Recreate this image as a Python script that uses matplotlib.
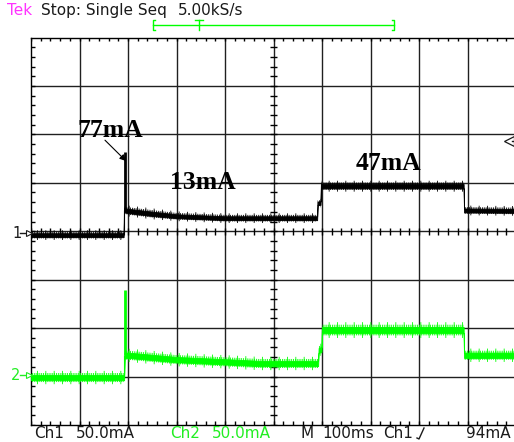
import numpy as np
import matplotlib
matplotlib.use("Agg")
import matplotlib.pyplot as plt
from matplotlib.lines import Line2D

# scope settings (50 mA/div both channels, 10 x 8 divisions)
ma_per_div = 50.0
ch1_offset = -0.04   # divisions
ch2_offset = -2.96

# channel 1 (black) - time in divisions, level and half-band in mA
ch1_t = [0.00, 1.91, 1.92, 1.99, 2.50, 3.00, 4.00, 5.90, 5.91, 5.97, 5.98, 8.92, 8.93, 10.0]
ch1_mid = [-2.0, -2.0, 24.0, 23.0, 20.0, 17.5, 15.5, 15.5, 31.0, 31.0, 48.5, 48.5, 23.5, 23.0]
ch1_half = [4.0, 4.0, 4.5, 4.5, 4.5, 4.0, 4.0, 4.0, 3.5, 3.5, 4.5, 4.5, 4.0, 4.0]
ch1_spike_t = 1.94
ch1_spike = [24.0, 84.0]

# channel 2 (green)
ch2_t = [0.00, 1.92, 1.93, 2.00, 3.00, 4.10, 4.70, 5.92, 5.93, 5.99, 6.00, 8.92, 8.93, 10.0]
ch2_mid = [-3.0, -3.0, 20.0, 20.0, 15.5, 13.0, 11.5, 11.5, 25.0, 26.0, 46.0, 46.0, 20.0, 20.0]
ch2_half = [5.5, 5.5, 5.5, 5.5, 5.5, 5.5, 5.5, 5.5, 5.0, 5.0, 6.5, 6.5, 5.5, 5.5]
ch2_spike_t = 1.93
ch2_spike = [20.0, 87.0]

labels = ["77mA", "13mA", "47mA"]
label_pos = [(0.95, 2.08), (2.87, 1.00), (6.70, 1.39)]

W, H = 514, 442
GREEN = "#00ff00"
TXT_GREEN = "#22ee22"
INK = "#1a1a1a"

fig = plt.figure(figsize=(W / 100, H / 100), dpi=100)
fig.patch.set_facecolor("white")
ax = fig.add_axes([31 / W, 17 / H, 485 / W, 387.5 / H])
ax.set_xlim(0, 10)
ax.set_ylim(-4, 4)
ax.set_xticks([])
ax.set_yticks([])
for s in ax.spines.values():
    s.set_color("black")
    s.set_linewidth(1.0)

# graticule
for gx in range(1, 10):
    ax.axvline(gx, color="#202020", lw=1.0, zorder=1)
for gy in range(-3, 4):
    ax.axhline(gy, color="#202020", lw=1.0, zorder=1)

tk = 3.5 / 48.5
minor_x = np.arange(0, 10.01, 0.2)
minor_y = np.arange(-4, 4.01, 0.2)
ax.vlines(minor_x, -tk, tk, color="black", lw=1.0, zorder=1)
ax.hlines(minor_y, 5 - tk, 5 + tk, color="black", lw=1.0, zorder=1)
ax.vlines(minor_x, 4 - 4 / 48.5, 4, color="black", lw=1.0, zorder=1)
ax.vlines(minor_x, -4, -4 + 4 / 48.5, color="black", lw=1.0, zorder=1)
ax.hlines(minor_y, 0, 4 / 48.5, color="black", lw=1.0, zorder=1)

plt.rcParams["hatch.linewidth"] = 0.6


def draw_trace(t, mid, half, offset, color, spike_t, spike):
    t = np.array(t)
    mid = np.array(mid) / ma_per_div + offset
    half = np.array(half) / ma_per_div
    ax.fill_between(t, mid - half * 0.5, mid + half * 0.5, color=color, lw=0.6, zorder=3)
    # noise fuzz: two hatch layers of different reach
    ax.fill_between(t, mid - half * 0.85, mid + half * 0.85, facecolor="none", edgecolor=color,
                    hatch="|||||||||", lw=0, zorder=3)
    ax.fill_between(t, mid - half * 1.25, mid + half * 1.25, facecolor="none", edgecolor=color,
                    hatch="||", lw=0, zorder=3)
    ax.vlines(spike_t, spike[0] / ma_per_div + offset, spike[1] / ma_per_div + offset,
              color=color, lw=2.0, zorder=3)
    ax.vlines(spike_t - 0.02, mid[0], spike[0] / ma_per_div + offset, color=color, lw=0.8, zorder=3)


draw_trace(ch1_t, ch1_mid, ch1_half, ch1_offset, "black", ch1_spike_t, ch1_spike)
draw_trace(ch2_t, ch2_mid, ch2_half, ch2_offset, GREEN, ch2_spike_t, ch2_spike)

for lab, (lx, ly) in zip(labels, label_pos):
    ax.text(lx, ly, lab, family="Liberation Serif", weight="bold", fontsize=18.5,
            ha="left", va="center", zorder=5)
ax.annotate("", xy=(2.0, 1.41), xytext=(1.485, 1.92),
            arrowprops=dict(arrowstyle="-|>", lw=0.8, color="black", mutation_scale=9),
            zorder=5)


def ftext(x, y, s, color=INK, size=11, **kw):
    fig.text(x / W, 1 - y / H, s, color=color, fontsize=size, va="baseline", ha="left", **kw)


ftext(7, 15, "Tek", color="#ff33ff")
ftext(41, 15, "Stop: Single Seq")
ftext(178, 15, "5.00kS/s")

ftext(34, 438, "Ch1")
ftext(76, 438, "50.0mA")
ftext(170, 438, "Ch2", color=TXT_GREEN)
ftext(212, 438, "50.0mA", color=TXT_GREEN)
ftext(300, 438, "M")
ftext(322, 438, "100ms")
ftext(383, 438, "Ch1")
ftext(466, 438, "94mA")


def fline(xs, ys, color=INK, lw=1.0):
    fig.add_artist(Line2D([x / W for x in xs], [1 - y / H for y in ys],
                          color=color, lw=lw, transform=fig.transFigure))


# trigger slope symbol
fline([417, 419, 424], [438, 439, 428])

# acquisition window bracket
fline([153, 394], [25, 25], color=GREEN)
fline([155, 153, 153, 155], [20, 20, 30, 30], color=GREEN)
fline([392, 394, 394, 392], [20, 20, 30, 30], color=GREEN)
fline([195, 203], [20, 20], color=GREEN)
fline([199, 199], [20, 30], color=GREEN)

# channel ground markers
ftext(12, 238, "1", size=10.5)
fline([20, 29], [233, 233])
fig.add_artist(Line2D([29 / W], [1 - 233 / H], marker=">", ms=4, mfc="white", mec=INK,
                      mew=0.8, transform=fig.transFigure))
ftext(11, 380, "2", color=TXT_GREEN, size=10.5)
fline([20, 29], [375, 375], color=TXT_GREEN)
fig.add_artist(Line2D([29 / W], [1 - 375 / H], marker=">", ms=4, mfc="white", mec=TXT_GREEN,
                      mew=0.8, transform=fig.transFigure))

# trigger level marker
fig.add_artist(Line2D([509 / W], [1 - 141 / H], marker="<", ms=7, mfc="white", mec=INK,
                      mew=0.9, transform=fig.transFigure))
fline([512, 514], [141, 141])

fig.savefig("out.png", dpi=100)
